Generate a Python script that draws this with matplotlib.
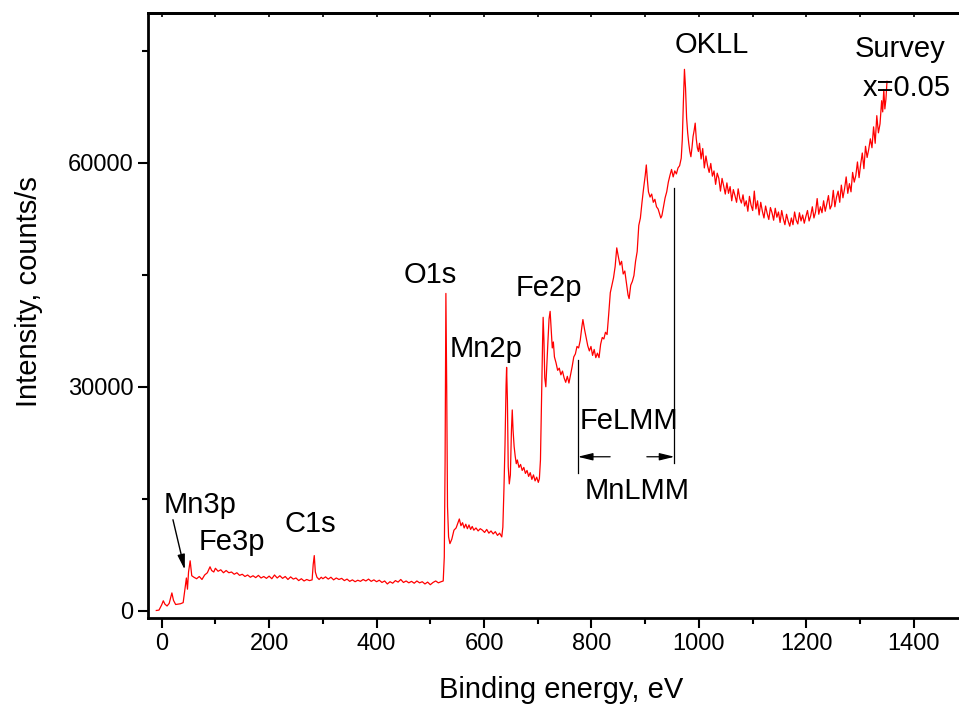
import numpy as np
import matplotlib.pyplot as plt

plt.rcParams['font.family'] = ['Liberation Sans', 'DejaVu Sans']

# XPS survey spectrum, x = 0.05
energy = [
    -10, -5, 0, 3, 6, 10, 14, 19, 22, 26,
    30, 35, 40, 43, 46, 48, 50, 53, 56, 60,
    65, 70, 75, 80, 85, 90, 93, 97, 100, 105,
    110, 115, 120, 125, 130, 135, 140, 145, 150, 155,
    160, 165, 170, 175, 180, 185, 190, 195, 200, 205,
    210, 215, 220, 225, 230, 235, 240, 245, 250, 255,
    260, 265, 270, 275, 280, 282, 284, 286, 289, 293,
    297, 300, 305, 310, 315, 320, 325, 330, 335, 340,
    345, 350, 355, 360, 365, 370, 375, 380, 385, 390,
    395, 400, 405, 410, 415, 420, 425, 430, 435, 440,
    445, 450, 455, 460, 465, 470, 475, 480, 485, 490,
    495, 500, 505, 510, 515, 520, 524, 526, 527.5, 529,
    530.5, 532, 534, 536.5, 540, 544, 548, 551, 554, 557,
    560, 563, 566, 569, 572, 575, 578, 581, 585, 589,
    593, 597, 601, 605, 609, 613, 617, 621, 625, 629,
    633, 635, 637, 639, 641, 642, 643.5, 645, 647, 649,
    651, 652.5, 654, 656, 658, 660, 662, 665, 668, 671,
    674, 677, 680, 683, 686, 689, 692, 695, 698, 701,
    703, 705, 707, 709, 710, 711.5, 713, 715, 717, 719,
    721, 723, 725, 727, 729, 731, 734, 737, 740, 743,
    746, 749, 752, 755, 758, 761, 764, 767, 770, 773,
    776, 779, 782, 784, 787, 790, 793, 796, 799, 802,
    805, 808, 811, 814, 817, 820, 823, 826, 829, 832,
    835, 838, 841, 844, 847, 850, 853, 856, 859, 862,
    865, 868, 870, 873, 876, 879, 882, 885, 888, 891,
    894, 897, 900, 902, 904, 906, 909, 912, 915, 918,
    921, 924, 927, 929, 931, 934, 937, 940, 943, 946,
    949, 952, 955, 958, 961, 964, 967, 969, 971, 973,
    975, 977, 979, 981, 983, 985, 987, 989, 991, 993,
    995, 997, 999, 1001, 1004, 1007, 1010, 1013, 1016, 1019,
    1022, 1025, 1028, 1031, 1034, 1037, 1040, 1043, 1046, 1049,
    1052, 1055, 1058, 1061, 1064, 1067, 1070, 1073, 1076, 1079,
    1082, 1085, 1088, 1091, 1094, 1097, 1100, 1103, 1106, 1109,
    1112, 1115, 1118, 1121, 1124, 1127, 1130, 1133, 1136, 1139,
    1142, 1145, 1148, 1151, 1154, 1157, 1160, 1163, 1166, 1169,
    1172, 1175, 1178, 1181, 1184, 1187, 1190, 1193, 1196, 1199,
    1202, 1205, 1208, 1211, 1214, 1217, 1220, 1223, 1226, 1229,
    1232, 1235, 1238, 1241, 1244, 1247, 1250, 1253, 1256, 1259,
    1262, 1265, 1268, 1271, 1274, 1277, 1280, 1283, 1286, 1289,
    1292, 1295, 1298, 1301, 1304, 1307, 1310, 1313, 1316, 1319,
    1322, 1325, 1328, 1331, 1334, 1337, 1340, 1342, 1344, 1346,
    1348, 1350,
]

counts = [
    50, 100, 800, 1350, 900, 650, 1000, 2400, 1400, 850,
    900, 950, 1100, 2700, 4400, 2900, 5200, 6700, 4700, 4500,
    4300, 4600, 4200, 4800, 5100, 5900, 5400, 5200, 5700, 5300,
    5500, 5100, 5400, 5100, 5200, 4900, 5100, 4750, 4900, 4600,
    4800, 4500, 4700, 4450, 4750, 4400, 4600, 4350, 4650, 4300,
    4800, 4400, 4700, 4350, 4600, 4200, 4550, 4250, 4400, 4050,
    4300, 4000, 4200, 4050, 4150, 6200, 7400, 5200, 4500, 4200,
    4500, 4300, 4550, 4250, 4500, 4150, 4400, 4200, 4350, 4050,
    4250, 3950, 4150, 3900, 4100, 3950, 4200, 4000, 4250, 3950,
    4150, 3900, 4100, 3800, 4000, 3600, 3900, 3700, 4050, 3850,
    4200, 3800, 4000, 3750, 3950, 3700, 4000, 3750, 3900, 3600,
    3850, 3500, 3800, 4000, 3750, 3900, 4000, 7200, 20000, 42500,
    30000, 14000, 9900, 9000, 9600, 10800, 11100, 11700, 12300, 11400,
    11800, 11100, 11600, 11000, 11500, 10900, 11300, 10800, 11100, 10700,
    11000, 10800, 10500, 10900, 10400, 10700, 10300, 10600, 10100, 10400,
    9900, 11200, 16200, 22200, 30200, 32600, 28200, 19300, 17000, 18200,
    24200, 26900, 24200, 22000, 20700, 19700, 20200, 19200, 19600, 18800,
    19200, 18400, 18800, 18000, 18500, 17600, 18200, 17400, 17900, 17200,
    17700, 20200, 28200, 36200, 39300, 36200, 31200, 30000, 33200, 36200,
    39100, 40100, 37600, 35200, 36000, 34000, 33200, 32200, 32500, 31600,
    32100, 31200, 30600, 31400, 30500, 31600, 32700, 34000, 34400, 35400,
    35200, 36200, 38000, 39000, 37700, 36600, 35500, 34800, 35400, 34200,
    35000, 33900, 34500, 33900, 35700, 36600, 36400, 37300, 37000, 39700,
    42600, 43600, 44600, 46100, 48600, 47400, 46300, 46800, 45100, 45500,
    43900, 42300, 41800, 43600, 44100, 44900, 46800, 48100, 51600, 52600,
    54700, 56600, 58300, 59700, 57700, 56100, 55400, 55800, 54700, 55100,
    54100, 53800, 53100, 52600, 52900, 54100, 55300, 56100, 57400, 58300,
    59100, 58100, 58900, 58500, 59300, 59600, 60600, 63100, 68100, 72500,
    70000, 66000, 64000, 62600, 61500, 60800, 62000, 63500, 64300, 65300,
    63200, 62000, 61500, 62600, 60500, 61900, 59300, 60900, 59600, 58700,
    59900, 58200, 58900, 57100, 58600, 57900, 56200, 57900, 56900, 55800,
    57300, 55900, 56800, 54900, 56400, 55600, 54700, 56500, 55200, 54600,
    55700, 54200, 54900, 53500, 55500, 54300, 53600, 56200, 53800, 54900,
    53000, 54700, 53500, 52600, 54200, 53200, 52400, 54000, 53300, 52300,
    53900, 52700, 53400, 52000, 53600, 52500, 51700, 53100, 52200, 51500,
    52600, 51700, 53400, 52300, 51800, 53300, 52200, 53000, 51900, 52800,
    53600, 52200, 52900, 54100, 52600, 53400, 55200, 53100, 54100, 53300,
    54900, 53500, 54500, 55600, 53800, 54300, 56300, 54100, 55400, 56200,
    54700, 57000, 55300, 56500, 58100, 55900, 57200, 56100, 58700, 57400,
    58300, 60100, 58000, 59800, 61300, 59200, 62200, 60700, 61800, 63200,
    62000, 64800, 62600, 66300, 64000, 65200, 68300, 66800, 69800, 67200,
    68500, 70900,
]

# peak labels: (text, energy, counts) - baseline anchored, centred
labels = [
    ("O1s", 499, 43900),
    ("Mn2p", 603, 34000),
    ("Fe2p", 721, 42200),
    ("OKLL", 1024, 74700),
    ("Mn3p", 71, 13100),
    ("Fe3p", 130, 8200),
    ("C1s", 277, 10600),
    ("FeLMM", 869, 24400),
    ("MnLMM", 884, 15000),
    ("Survey", 1375, 74100),
    ("x=0.05", 1386, 68900),
]

assert len(energy) == len(counts)

fig = plt.figure(figsize=(9.59, 7.09), dpi=100)
ax = fig.add_axes([0.1543, 0.1279, 0.8457, 0.8533])

ax.plot(energy, counts, color='red', lw=0.9)

ax.set_xlim(-25.5, 1484)
ax.set_ylim(-1000, 80000)

ax.set_xticks(np.arange(0, 1401, 200))
ax.set_xticks(np.arange(100, 1401, 200), minor=True)
ax.set_yticks([0, 30000, 60000])
ax.set_yticks([15000, 45000, 75000], minor=True)
ax.tick_params(which='major', direction='out', length=7, width=1.5, labelsize=17)
ax.tick_params(which='minor', direction='out', length=4, width=1.5)

sec = ax.secondary_xaxis('top')
sec.set_xticks(np.arange(0, 1401, 100))
sec.tick_params(direction='in', length=3, width=1.2, labeltop=False)
sec.spines['top'].set_linewidth(2)

for side in ['left', 'bottom', 'top']:
    ax.spines[side].set_linewidth(2)
ax.spines['right'].set_visible(False)

ax.set_xlabel("Binding energy, eV", fontsize=21)
ax.set_ylabel("Intensity, counts/s", fontsize=21)
ax.xaxis.set_label_coords(0.509, -0.095)
ax.yaxis.set_label_coords(-0.130, 0.54)

for txt, x, y in labels:
    ax.text(x, y, txt, fontsize=21, ha='center', va='baseline')

# Mn3p arrow
ax.annotate("", xy=(43, 5500), xytext=(21, 12200),
            arrowprops=dict(arrowstyle='-|>,head_length=0.9,head_width=0.22',
                            color='black', lw=1, shrinkA=0, shrinkB=0))

# FeLMM / MnLMM range markers
ax.plot([774.5, 774.5], [18450, 33580], color='black', lw=0.9)
ax.plot([954.4, 954.4], [19750, 56570], color='black', lw=0.9)
for x0, x1 in [(834.7, 774.5), (903, 954.4)]:
    ax.annotate("", xy=(x1, 20630), xytext=(x0, 20630),
                arrowprops=dict(arrowstyle='-|>,head_length=0.9,head_width=0.22',
                                color='black', lw=0.9, shrinkA=0, shrinkB=0))

fig.savefig("out.png", dpi=100)
